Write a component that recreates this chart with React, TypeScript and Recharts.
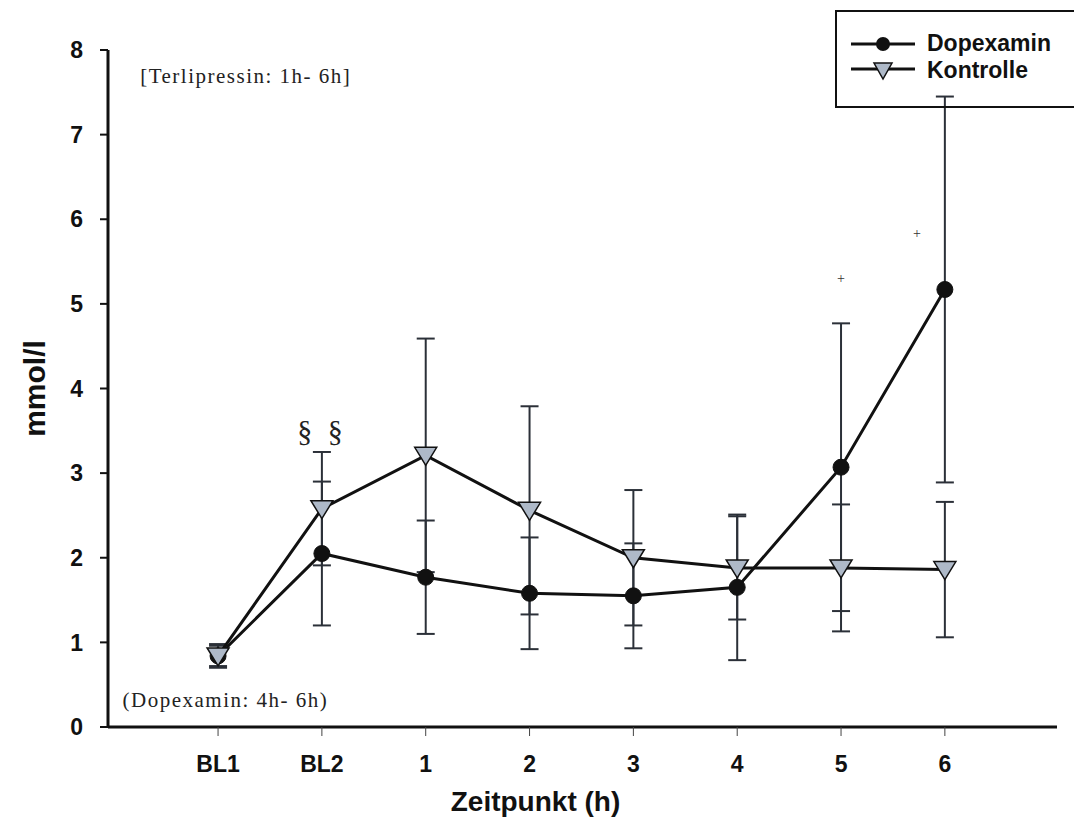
import React from "react";
import {
  LineChart,
  Line,
  XAxis,
  YAxis,
  ErrorBar,
  Legend,
  ReferenceDot,
} from "recharts";

// time points on the x axis
const categories = ["BL1", "BL2", "1", "2", "3", "4", "5", "6"];
const yTicks = [0, 1, 2, 3, 4, 5, 6, 7, 8];

// mean ± SD, mmol/l
const dopexamin = [0.84, 2.05, 1.77, 1.58, 1.55, 1.65, 3.07, 5.17];
const dopexaminSd = [0.14, 0.85, 0.67, 0.66, 0.62, 0.86, 1.7, 2.28];
const kontrolle = [0.84, 2.58, 3.21, 2.56, 2.0, 1.88, 1.88, 1.86];
const kontrolleSd = [0.12, 0.67, 1.38, 1.23, 0.8, 0.61, 0.75, 0.8];

const data = categories.map((c, i) => ({
  x: i,
  name: c,
  dop: dopexamin[i],
  dopSd: dopexaminSd[i],
  kon: kontrolle[i],
  konSd: kontrolleSd[i],
}));

const TRI_FILL = "#aeb9c8";
const BAR_COLOR = "#2b3038";
const boldFont = "'Liberation Sans', Arial, sans-serif";
const serifFont = "'Liberation Serif', 'Times New Roman', serif";

const TriangleDot = (props: any) => {
  const { cx, cy, index } = props;
  if (cx == null || cy == null) return null;
  return (
    <path
      key={`tri-${index}`}
      d={`M${cx - 11},${cy - 8} L${cx + 11},${cy - 8} L${cx},${cy + 10} Z`}
      fill={TRI_FILL}
      stroke="#111"
      strokeWidth={1.5}
    />
  );
};

const LegendBox = () => (
  <div
    style={{
      border: "2px solid #111",
      borderRight: "none",
      width: 245,
      height: 98,
      boxSizing: "border-box",
      paddingTop: 18,
      fontFamily: boldFont,
      fontWeight: 700,
      fontSize: 23,
      color: "#111",
    }}
  >
    <div style={{ display: "flex", alignItems: "center", height: 27 }}>
      <svg width={76} height={24} style={{ marginLeft: 14 }}>
        <line x1={0} y1={12} x2={64} y2={12} stroke="#111" strokeWidth={3} />
        <circle cx={32} cy={12} r={7} fill="#111" />
      </svg>
      <span>Dopexamin</span>
    </div>
    <div style={{ display: "flex", alignItems: "center", height: 27 }}>
      <svg width={76} height={24} style={{ marginLeft: 14 }}>
        <line x1={0} y1={10} x2={64} y2={10} stroke="#111" strokeWidth={3} />
        <path d="M23,4 L41,4 L32,20 Z" fill={TRI_FILL} stroke="#111" strokeWidth={1.5} />
      </svg>
      <span>Kontrolle</span>
    </div>
  </div>
);

const noteStyle = { fill: "#222", fontFamily: serifFont, fontSize: 21, letterSpacing: 1.5 };
const plusStyle = { fill: "#333", fontFamily: serifFont, fontSize: 14 };

export default function App() {
  return (
    <div style={{ position: "absolute", left: 0, top: 0, background: "#fff" }}>
      <LineChart
        width={1074}
        height={839}
        data={data}
        margin={{ top: 50, right: 17, left: 0, bottom: 0 }}
      >
        <XAxis
          dataKey="x"
          type="number"
          height={112}
          domain={[-1.06, 8.08]}
          ticks={[0, 1, 2, 3, 4, 5, 6, 7]}
          tickFormatter={(v: number) => categories[v]}
          axisLine={{ stroke: "#111", strokeWidth: 3 }}
          tickLine={{ stroke: "#444", strokeWidth: 1 }}
          tickSize={9}
          tickMargin={20}
          tick={{ fill: "#111", fontFamily: boldFont, fontWeight: 700, fontSize: 23 }}
          allowDataOverflow
          label={{
            value: "Zeitpunkt (h)",
            position: "insideBottom",
            offset: 28,
            dx: -47,
            style: { fill: "#111", fontFamily: boldFont, fontWeight: 700, fontSize: 28 },
          }}
        />
        <YAxis
          type="number"
          domain={[0, 8]}
          ticks={yTicks}
          width={108}
          axisLine={{ stroke: "#111", strokeWidth: 3 }}
          tickLine={{ stroke: "#111", strokeWidth: 2 }}
          tickSize={8}
          tickMargin={17}
          tick={{ fill: "#111", fontFamily: boldFont, fontWeight: 700, fontSize: 23 }}
          label={{
            value: "mmol/l",
            angle: -90,
            position: "insideLeft",
            offset: 34,
            style: { fill: "#111", fontFamily: boldFont, fontWeight: 700, fontSize: 30, textAnchor: "middle" },
          }}
        />
        <Legend
          layout="vertical"
          align="center"
          verticalAlign="middle"
          content={<LegendBox />}
          wrapperStyle={{ position: "absolute", left: 835, top: 10, width: 245, height: 98 }}
        />
        <Line
          dataKey="dop"
          name="Dopexamin"
          stroke="#111"
          strokeWidth={3}
          dot={{ r: 8, fill: "#111", stroke: "#111", strokeWidth: 1 }}
          isAnimationActive={false}
        >
          <ErrorBar dataKey="dopSd" direction="y" width={9} stroke={BAR_COLOR} strokeWidth={2} />
        </Line>
        <Line
          dataKey="kon"
          name="Kontrolle"
          stroke="#111"
          strokeWidth={3}
          dot={<TriangleDot />}
          isAnimationActive={false}
        >
          <ErrorBar dataKey="konSd" direction="y" width={9} stroke={BAR_COLOR} strokeWidth={2} />
        </Line>
        <ReferenceDot
          x={-0.75}
          y={7.7}
          r={0}
          label={{ value: "[Terlipressin: 1h- 6h]", position: "right", offset: 0, fill: "#222", style: noteStyle }}
        />
        <ReferenceDot
          x={-0.92}
          y={0.32}
          r={0}
          label={{ value: "(Dopexamin: 4h- 6h)", position: "right", offset: 0, fill: "#222", style: noteStyle }}
        />
        <ReferenceDot
          x={1}
          y={3.5}
          r={0}
          label={{
            value: "§ §",
            position: "center",
            fill: "#222",
            style: { fill: "#222", fontFamily: serifFont, fontSize: 30, letterSpacing: 4 },
          }}
        />
        <ReferenceDot
          x={6}
          y={5.3}
          r={0}
          label={{ value: "+", position: "center", fill: "#333", style: plusStyle }}
        />
        <ReferenceDot
          x={6.73}
          y={5.84}
          r={0}
          label={{ value: "+", position: "center", fill: "#333", style: plusStyle }}
        />
      </LineChart>
    </div>
  );
}
